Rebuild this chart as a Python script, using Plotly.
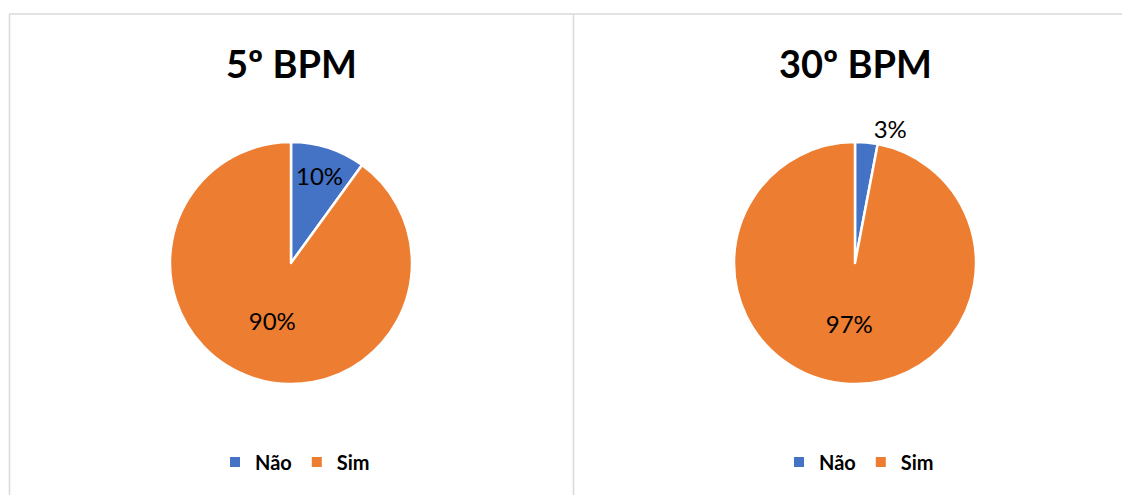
import plotly.graph_objects as go

W, H = 1123, 495

labels = ["Não", "Sim"]
titles = ["5º BPM", "30º BPM"]
values_5 = [10, 90]
values_30 = [3, 97]
colors = ["#4472C4", "#ED7D31"]

FONT = "Lato, Calibri, Arial, sans-serif"

def px_x(v):
    return v / W

def px_y(v):
    return 1 - v / H

# pie centres / radius (pixels)
centres = [291, 855]
cy = 263
r = 121

fig = go.Figure()
for i, (vals, leg) in enumerate([(values_5, "legend"), (values_30, "legend2")]):
    cx = centres[i]
    fig.add_trace(go.Pie(
        labels=labels,
        values=vals,
        sort=False,
        direction="clockwise",
        rotation=0,
        marker=dict(colors=colors, line=dict(color="white", width=2.5)),
        textinfo="percent",
        texttemplate="%{percent:.0%}",
        textposition=["inside", "inside"] if i == 0 else ["outside", "inside"],
        insidetextorientation="horizontal",
        textfont=dict(family=FONT, size=24, color="black"),
        outsidetextfont=dict(family=FONT, size=24, color="black"),
        domain=dict(x=[px_x(cx - r), px_x(cx + r)], y=[px_y(cy + r), px_y(cy - r)]),
        legend=leg,
        legendgroup="g%d" % i,
        hoverinfo="label+percent",
        showlegend=True,
    ))

legend_style = dict(
    orientation="h",
    xanchor="center",
    yanchor="middle",
    y=px_y(462),
    font=dict(family=FONT, size=20, color="black", weight="bold"),
    bgcolor="rgba(0,0,0,0)",
    itemsizing="constant",
    traceorder="normal",
)

annotations = []
for i, t in enumerate(titles):
    annotations.append(dict(
        text=t, x=px_x(centres[i]), y=px_y(63), xref="paper", yref="paper",
        xanchor="center", yanchor="middle", showarrow=False,
        font=dict(family=FONT, size=38, color="black", weight="bold"),
    ))

grid = "#D9D9D9"
shapes = [
    dict(type="line", xref="paper", yref="paper", x0=px_x(9), x1=px_x(1122), y0=px_y(14), y1=px_y(14),
         line=dict(color=grid, width=1.5)),
    dict(type="line", xref="paper", yref="paper", x0=px_x(9.5), x1=px_x(9.5), y0=px_y(14), y1=0,
         line=dict(color=grid, width=1.5)),
    dict(type="line", xref="paper", yref="paper", x0=px_x(573.5), x1=px_x(573.5), y0=px_y(14), y1=0,
         line=dict(color=grid, width=1.5)),
]

fig.update_layout(
    width=W, height=H,
    margin=dict(l=0, r=0, t=0, b=0),
    paper_bgcolor="white",
    plot_bgcolor="white",
    legend=dict(x=px_x(centres[0] + 4), **legend_style),
    legend2=dict(x=px_x(centres[1] + 4), **legend_style),
    annotations=annotations,
    shapes=shapes,
)

fig.write_html("out.html")
